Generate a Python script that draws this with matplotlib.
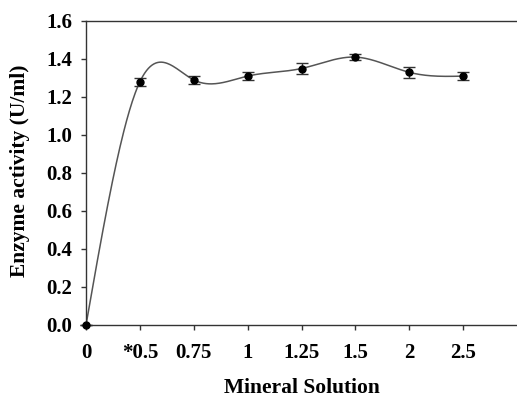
import numpy as np
import matplotlib
matplotlib.use("Agg")
import matplotlib.pyplot as plt

categories = ["0", "*0.5", "0.75", "1", "1.25", "1.5", "2", "2.5"]
activity = [0.0, 1.28, 1.29, 1.31, 1.35, 1.41, 1.33, 1.31]
errors = [0.0, 0.02, 0.02, 0.02, 0.03, 0.015, 0.03, 0.02]

plt.rcParams['font.family'] = ['Liberation Serif', 'DejaVu Serif']
plt.rcParams['font.weight'] = 'bold'

def natural_spline(x, y, xs):
    x = np.asarray(x, float); y = np.asarray(y, float)
    n = len(x)
    h = np.diff(x)
    A = np.zeros((n, n)); b = np.zeros(n)
    A[0, 0] = 1; A[-1, -1] = 1
    for i in range(1, n - 1):
        A[i, i - 1] = h[i - 1]; A[i, i] = 2 * (h[i - 1] + h[i]); A[i, i + 1] = h[i]
        b[i] = 3 * ((y[i + 1] - y[i]) / h[i] - (y[i] - y[i - 1]) / h[i - 1])
    c = np.linalg.solve(A, b)
    out = np.empty_like(xs)
    for k, t in enumerate(xs):
        i = min(max(np.searchsorted(x, t) - 1, 0), n - 2)
        d = t - x[i]
        bi = (y[i + 1] - y[i]) / h[i] - h[i] * (2 * c[i] + c[i + 1]) / 3
        di = (c[i + 1] - c[i]) / (3 * h[i])
        out[k] = y[i] + bi * d + c[i] * d ** 2 + di * d ** 3
    return out

xpos = np.arange(len(categories))
xs = np.linspace(0, len(categories) - 1, 400)
ys = natural_spline(xpos, activity, xs)

fig = plt.figure(figsize=(5.17, 3.97), dpi=100)
ax = fig.add_axes([86 / 517, 72 / 397, 1 - 86 / 517, (325 - 21) / 397])

ax.plot(xs, ys, color='#555555', lw=1.1, zorder=2)
ax.errorbar(xpos, activity, yerr=errors, fmt='o', color='black', ms=5,
            ecolor='#333333', elinewidth=1, capsize=4, capthick=1, zorder=3, clip_on=False)

ax.set_xlim(0, 8)
ax.set_ylim(0, 1.6)
ax.set_xticks(xpos)
ax.set_xticklabels(categories)
ax.set_yticks(np.arange(0, 1.61, 0.2))
ax.set_yticklabels([f"{v:.1f}" for v in np.arange(0, 1.61, 0.2)])
ax.spines['right'].set_visible(False)
for s in ['left', 'bottom', 'top']:
    ax.spines[s].set_color('#333333')
    ax.spines[s].set_linewidth(1)
ax.tick_params(axis='both', direction='out', length=3.6, width=1, color='#333333', labelsize=15)
ax.tick_params(axis='y', pad=6.5)
ax.tick_params(axis='x', pad=9)
for lab in ax.get_xticklabels() + ax.get_yticklabels():
    lab.set_fontweight('bold')
ax.set_xlabel("Mineral Solution", fontsize=15.5, fontweight='bold', labelpad=11)
ax.set_ylabel("Enzyme activity (U/ml)", fontsize=15.5, fontweight='bold')
ax.yaxis.label.set_verticalalignment('center')
ax.yaxis.set_label_coords((20 - 86) / 431, (325 - 170.5) / 304)

fig.savefig("out.png", dpi=100)
